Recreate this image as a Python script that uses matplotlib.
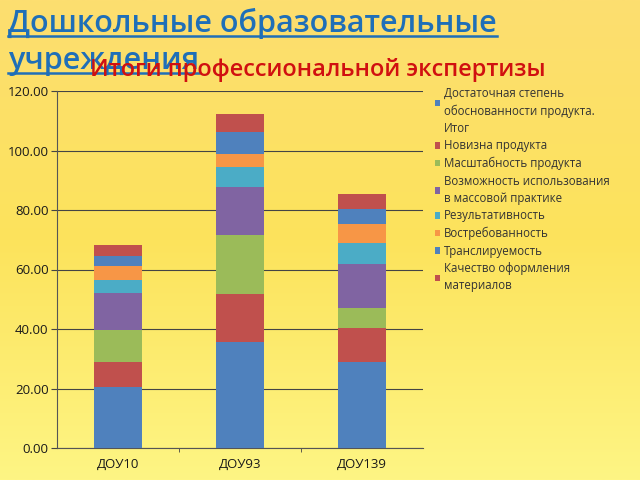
import numpy as np
import matplotlib
matplotlib.use("Agg")
import matplotlib.pyplot as plt
from matplotlib.patches import Patch
from matplotlib.colors import LinearSegmentedColormap

plt.rcParams['font.family'] = ['Open Sans', 'DejaVu Sans']

categories = ["ДОУ10", "ДОУ93", "ДОУ139"]
series_names = [
    "Достаточная степень\nобоснованности продукта.",
    "Итог",
    "Новизна продукта",
    "Масштабность продукта",
    "Возможность использования\nв массовой практике",
    "Результативность",
    "Востребованность",
    "Транслируемость",
    "Качество оформления\nматериалов",
]
series_values = [
    [20.4, 35.7, 28.8],
    [0.0, 0.0, 0.0],
    [8.4, 16.0, 11.4],
    [10.9, 19.8, 6.8],
    [12.3, 16.1, 14.8],
    [4.5, 6.7, 7.2],
    [4.7, 4.4, 6.3],
    [3.3, 7.4, 4.9],
    [3.8, 6.2, 5.3],
]
series_colors = ["#4F81BD", "none", "#C0504D", "#9BBB59", "#8064A2",
                 "#4BACC6", "#F79646", "#4F81BD", "#C0504D"]
y_ticks = [0, 20, 40, 60, 80, 100, 120]

fig = plt.figure(figsize=(6.4, 4.8), dpi=100)

# background gradient
bg = fig.add_axes([0, 0, 1, 1], zorder=-10)
cmap = LinearSegmentedColormap.from_list("bg", ["#FEF584", "#FCE35C", "#FDDE70"])
grad = np.linspace(0, 1, 256).reshape(-1, 1)
bg.imshow(grad, aspect="auto", cmap=cmap, origin="lower", extent=[0, 1, 0, 1])
bg.set_axis_off()

ax = fig.add_axes([57/640, 1 - 448/480, (423-57)/640, (448-91)/480])
ax.set_facecolor("none")
x = np.arange(len(categories))
bottom = np.zeros(len(categories))
handles = []
for name, vals, col in zip(series_names, series_values, series_colors):
    vals = np.array(vals)
    if col != "none":
        ax.bar(x, vals, bottom=bottom, width=0.39, color=col, zorder=3, linewidth=0)
    bottom += vals
    handles.append(Patch(facecolor=col, edgecolor="none", label=name))

ax.set_xlim(-0.5, len(categories) - 0.5)
ax.set_ylim(0, 120)
ax.set_yticks(y_ticks)
ax.set_yticklabels([f"{v:.2f}" for v in y_ticks], fontsize=9.5, color="#1a1a1a")
ax.yaxis.grid(True, color="#444444", linewidth=0.8, zorder=0)
ax.set_xticks(x)
ax.set_xticklabels(categories, fontsize=9.5, color="#1a1a1a")
ax.tick_params(axis="x", length=0, pad=7)
ax.set_xticks([0.5, 1.5], minor=True)
ax.tick_params(axis="x", which="minor", length=3, color="#444444")
ax.tick_params(axis="y", length=4, color="#444444", pad=2)
for s in ["top", "right"]:
    ax.spines[s].set_visible(False)
for s in ["left", "bottom"]:
    ax.spines[s].set_color("#555555")
    ax.spines[s].set_linewidth(0.8)

leg = fig.legend(handles=handles, loc="upper left", bbox_to_anchor=(430/640, 1 - 82/480),
                 frameon=False, fontsize=8.3, handlelength=0.5, handleheight=0.5,
                 handletextpad=0.3, labelspacing=0.38, borderaxespad=0)
for t in leg.get_texts():
    t.set_color("#333333")
    t.set_linespacing(1.45)

# titles
t1 = fig.text(8/640, 1 - 32/480, "Дошкольные образовательные", fontsize=22,
              color="#1F6FB8", fontweight="semibold", va="baseline", ha="left")
t2 = fig.text(8/640, 1 - 69/480, "учреждения", fontsize=22,
              color="#1F6FB8", fontweight="semibold", va="baseline", ha="left")
fig.text(318/640, 1 - 76/480, "Итоги профессиональной экспертизы", fontsize=17,
         color="#D01010", fontweight="semibold", va="baseline", ha="center")

fig.canvas.draw()
r = fig.canvas.get_renderer()
for t in (t1, t2):
    bb = t.get_window_extent(r).transformed(fig.transFigure.inverted())
    y = t.get_position()[1] - 4/480
    fig.add_artist(plt.Line2D([bb.x0, bb.x1], [y, y], color="#1F6FB8", linewidth=1.8,
                              transform=fig.transFigure))

fig.savefig("out.png", dpi=100)
